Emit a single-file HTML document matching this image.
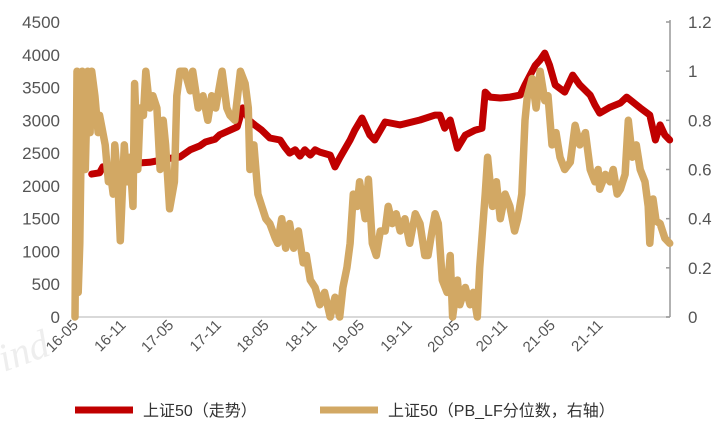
<!DOCTYPE html>
<html><head><meta charset="utf-8"><style>
body{margin:0;background:#fff;}
svg{display:block;font-family:"Liberation Sans","Noto Sans CJK SC",sans-serif;}
</style></head><body>
<svg id="chart" width="726" height="432" viewBox="0 0 726 432">
<text x="4" y="372" font-size="40" font-style="italic" fill="#eee" font-family="Liberation Serif,serif" transform="rotate(-20 4 372)">ind</text>
<g id="axes"></g>
<g id="series"></g>
<g>
<line x1="75" y1="410" x2="133" y2="410" stroke="#c00000" stroke-width="7"/>
<text x="143" y="416" font-size="16" fill="#333">上证50（走势）</text>
<line x1="320" y1="410" x2="378" y2="410" stroke="#d2a864" stroke-width="7"/>
<text x="388" y="416" font-size="16" fill="#333">上证50（PB_LF分位数，右轴）</text>
</g>
</svg>
<script>
const xTickLabels=["16-05","16-11","17-05","17-11","18-05","18-11","19-05","19-11","20-05","20-11","21-05","21-11"];
const xTickMonths=[0,6,12,18,24,30,36,42,48,54,60,66];
const leftTicks=[0,500,1000,1500,2000,2500,3000,3500,4000,4500];
const rightTicks=[0,0.2,0.4,0.6,0.8,1,1.2];
const indexMonths=[2.1,3.1,3.5,4.4,5.7,6.9,8.2,9.4,10.7,11.9,13.2,14.5,15.7,16.4,17.6,18.2,19.5,20.4,21.1,22.0,22.6,23.5,24.5,25.8,26.4,27.0,27.7,28.3,28.9,29.6,30.2,30.8,32.1,32.7,33.3,34.6,35.2,36.1,37.1,37.7,39.0,40.9,43.4,45.3,45.9,46.5,47.2,48.1,49.1,50.3,51.2,51.6,52.2,53.5,54.7,56.0,56.6,57.9,58.5,59.1,59.7,60.4,61.6,62.6,63.5,64.8,65.4,66.0,67.3,68.6,69.4,71.1,72.3,73.0,73.6,74.2,74.8];
const indexValues=[2180,2200,2290,2300,2300,2350,2350,2360,2390,2420,2440,2550,2610,2670,2710,2780,2850,2900,3190,2990,2930,2850,2730,2700,2590,2500,2550,2455,2550,2470,2550,2515,2470,2290,2425,2700,2850,3035,2775,2700,2975,2930,3005,3080,3080,2880,3005,2575,2775,2850,2880,3430,3355,3340,3355,3385,3540,3840,3920,4025,3840,3540,3430,3690,3540,3385,3235,3110,3200,3265,3355,3190,3080,2700,2930,2775,2700];
const pbMonths=[0,0.25,0.4,0.6,0.9,1.3,1.6,1.9,2.1,2.5,2.9,3.1,3.8,4.2,4.4,4.8,5.0,5.4,5.7,6.2,6.5,6.9,7.3,7.5,7.9,8.2,8.6,8.9,9.4,9.8,10.3,10.7,11.1,11.4,11.9,12.5,12.8,13.2,13.8,14.5,14.8,15.5,16.1,16.7,17.2,17.7,18.5,19.1,19.5,20.1,20.8,21.4,21.8,22.0,22.5,23.0,23.5,24.0,24.5,25.2,25.5,26.0,26.5,27.0,27.5,28.1,28.7,29.1,29.6,30.2,30.8,31.4,32.1,32.7,33.3,33.7,34.2,34.6,35.0,35.5,35.8,36.5,36.9,37.4,37.9,38.4,39.0,39.4,39.9,40.4,40.9,41.5,42.1,42.8,43.4,44.0,44.4,44.9,45.3,45.7,46.2,46.8,47.2,47.5,48.1,48.4,49.1,49.7,50.1,50.6,50.9,51.6,51.9,52.5,53.0,53.5,54.1,54.7,55.3,55.7,56.2,56.6,56.9,57.5,58.0,58.5,59.1,59.5,60.0,60.5,61.0,61.6,62.3,62.9,63.5,64.2,64.8,65.4,65.8,66.0,66.7,67.3,67.7,68.2,68.6,69.2,69.6,70.1,70.6,71.1,71.7,72.1,72.3,72.7,73.1,73.6,74.2,74.8];
const pbValues=[0,1.0,0.1,0.3,1.0,0.6,1.0,0.75,1.0,0.9,0.75,0.82,0.7,0.55,0.6,0.5,0.7,0.55,0.31,0.7,0.55,0.65,0.45,0.95,0.6,0.85,0.82,1.0,0.85,0.9,0.85,0.6,0.8,0.7,0.44,0.55,0.9,1.0,1.0,0.92,1.0,0.85,0.9,0.8,0.9,0.85,1.0,0.85,0.82,0.8,1.0,0.95,0.85,0.6,0.7,0.5,0.45,0.4,0.38,0.32,0.3,0.4,0.28,0.38,0.28,0.35,0.22,0.25,0.15,0.12,0.05,0.1,0.0,0.08,0.0,0.12,0.2,0.3,0.5,0.45,0.55,0.4,0.56,0.3,0.25,0.35,0.35,0.45,0.38,0.42,0.35,0.4,0.3,0.42,0.38,0.25,0.25,0.35,0.42,0.38,0.15,0.1,0.25,0.0,0.15,0.05,0.12,0.05,0.1,0.0,0.2,0.5,0.65,0.45,0.55,0.4,0.5,0.45,0.35,0.4,0.5,0.8,0.9,0.97,0.85,1.0,0.88,0.9,0.7,0.75,0.65,0.6,0.63,0.78,0.7,0.75,0.6,0.55,0.6,0.52,0.58,0.55,0.6,0.5,0.52,0.58,0.8,0.65,0.7,0.6,0.55,0.45,0.3,0.48,0.39,0.38,0.32,0.3];

const X0=75,PX_PER_MONTH=7.95,Y0=317,YTOP=22,RX=670;
const xScale=m=>X0+m*PX_PER_MONTH;
const yLeft=v=>Y0-(v/4500)*(Y0-YTOP);
const yRight=v=>Y0-(v/1.2)*(Y0-YTOP);
const NS="http://www.w3.org/2000/svg";
const axes=document.getElementById('axes'),series=document.getElementById('series');
function mk(tag,attrs,parent,text){const e=document.createElementNS(NS,tag);for(const k in attrs)e.setAttribute(k,attrs[k]);if(text!==undefined)e.textContent=text;parent.appendChild(e);return e;}

const base=mk('line',{x1:X0,y1:Y0,x2:RX,y2:Y0,stroke:'#d9d9d9','stroke-width':2},axes);


const rax=mk('line',{x1:RX,y1:YTOP-2,x2:RX,y2:Y0,stroke:'#999','stroke-width':1.5},axes);



leftTicks.forEach(v=>{
  const t=mk('text',{x:60,y:yLeft(v)+6,'text-anchor':'end','font-size':17,fill:'#555'},axes,String(v));
  
  
});
rightTicks.forEach(v=>{
  const tk=mk('line',{x1:RX-4,y1:yRight(v),x2:RX,y2:yRight(v),stroke:'#999','stroke-width':1.5},axes);
  
  
  const t=mk('text',{x:688,y:yRight(v)+6,'font-size':17,fill:'#555'},axes,String(v));
  
  
});
xTickLabels.forEach((lab,i)=>{
  const x=xScale(xTickMonths[i])+4,y=326;
  const t=mk('text',{x:x,y:y,'text-anchor':'end','font-size':15,fill:'#555',transform:`rotate(-45 ${x} ${y})`},axes,lab);
  
  
});

function path(ms,vs,ys){return ms.map((m,i)=>(i?'L':'M')+xScale(m).toFixed(1)+','+ys(vs[i]).toFixed(1)).join('');}
const redLine=mk('path',{d:path(indexMonths,indexValues,yLeft),fill:'none',stroke:'#c00000','stroke-width':7,'stroke-linejoin':'round','stroke-linecap':'round'},series);


const pbLine=mk('path',{d:path(pbMonths,pbValues,yRight),fill:'none',stroke:'#d2a864','stroke-width':7.5,'stroke-linejoin':'round','stroke-linecap':'round'},series);


</script>
</body></html>
